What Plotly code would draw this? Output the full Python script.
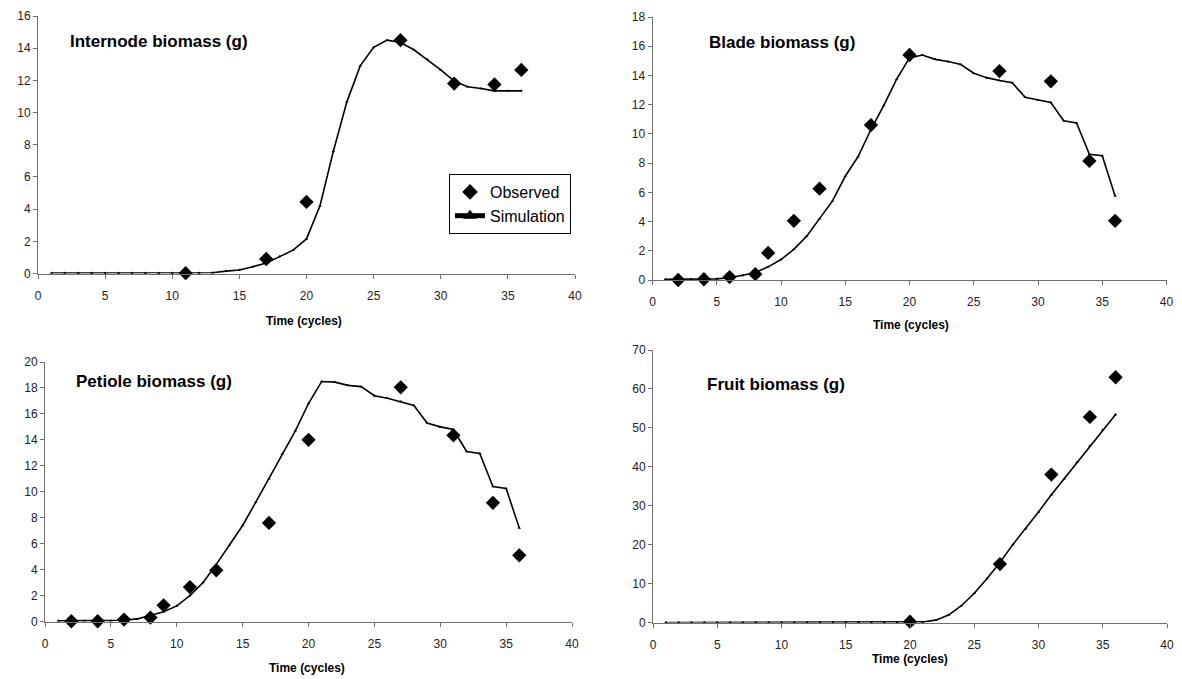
import plotly.graph_objects as go

W, H = 1182, 679

# ---------------- data ----------------
cycles = list(range(1, 37))

internode_sim = [0.03, 0.03, 0.03, 0.03, 0.03, 0.03, 0.03, 0.03, 0.03, 0.03,
                 0.03, 0.03, 0.05, 0.15, 0.22, 0.42, 0.65, 1.05, 1.45, 2.15,
                 4.2, 7.6, 10.65, 12.9, 14.05, 14.5, 14.35, 13.9, 13.3, 12.65,
                 11.95, 11.6, 11.5, 11.35, 11.35, 11.35]
internode_obs_x = [11, 17, 20, 27, 31, 34, 36]
internode_obs_y = [0.02, 0.9, 4.45, 14.5, 11.8, 11.75, 12.65]

blade_sim = [0.05, 0.05, 0.05, 0.05, 0.08, 0.15, 0.3, 0.5, 0.9, 1.4,
             2.1, 3.0, 4.2, 5.4, 7.1, 8.45, 10.3, 11.95, 13.75, 15.2,
             15.4, 15.1, 14.95, 14.75, 14.15, 13.85, 13.65, 13.5, 12.5, 12.3,
             12.15, 10.9, 10.75, 8.6, 8.5, 5.75]
blade_obs_x = [2, 4, 6, 8, 9, 11, 13, 17, 20, 27, 31, 34, 36]
blade_obs_y = [0.0, 0.05, 0.2, 0.4, 1.85, 4.05, 6.25, 10.6, 15.4, 14.3, 13.6, 8.15, 4.05]

petiole_sim = [0.05, 0.05, 0.05, 0.05, 0.05, 0.1, 0.2, 0.45, 0.75, 1.2,
               2.0, 3.0, 4.4, 5.9, 7.4, 9.2, 11.0, 12.9, 14.7, 16.8,
               18.5, 18.45, 18.2, 18.1, 17.4, 17.2, 16.95, 16.65, 15.3, 15.0,
               14.8, 13.1, 12.95, 10.4, 10.25, 7.2]
petiole_obs_x = [2, 4, 6, 8, 9, 11, 13, 17, 20, 27, 31, 34, 36]
petiole_obs_y = [0.02, 0.02, 0.15, 0.3, 1.25, 2.65, 3.95, 7.6, 14.0, 18.05, 14.35, 9.15, 5.1]

fruit_sim = [0.0, 0.0, 0.0, 0.0, 0.0, 0.0, 0.0, 0.0, 0.0, 0.0,
             0.0, 0.0, 0.0, 0.0, 0.0, 0.0, 0.0, 0.0, 0.0, 0.0,
             0.15, 0.6, 1.9, 4.3, 7.5, 11.3, 15.4, 20.0, 24.1, 28.4,
             32.8, 36.9, 41.2, 45.4, 49.5, 53.4]
fruit_obs_x = [20, 27, 31, 34, 36]
fruit_obs_y = [0.2, 15.0, 38.0, 52.8, 63.0]

panel_titles = ["Internode biomass (g)", "Blade biomass (g)",
                "Petiole biomass (g)", "Fruit biomass (g)"]
x_title = "Time (cycles)"
y_max = [16, 18, 20, 70]
y_step = [2, 2, 2, 10]

# ---------------- layout (pixels) ----------------
# (x0, x1, y_top, y_bottom) of plotting areas in pixels
boxes = [(38, 575, 16, 273.5),
         (652.5, 1166.5, 17, 280),
         (45, 572, 362, 621.5),
         (653, 1167, 350, 622.5)]
title_pos = [(68, 41), (707, 42), (74, 381), (705, 384)]
xtitle_pos = [(304, 321), (911, 325), (307, 668), (910, 659)]

series = [(internode_sim, internode_obs_x, internode_obs_y),
          (blade_sim, blade_obs_x, blade_obs_y),
          (petiole_sim, petiole_obs_x, petiole_obs_y),
          (fruit_sim, fruit_obs_x, fruit_obs_y)]

fig = go.Figure()
font_family = "Liberation Sans, Arial, sans-serif"
axis_col = "#707070"

annotations = []
for i, ((sim, ox, oy), box) in enumerate(zip(series, boxes)):
    n = "" if i == 0 else str(i + 1)
    x0, x1, yt, yb = box
    fig.add_trace(go.Scatter(
        x=ox, y=oy, mode="markers", name="Observed",
        marker=dict(symbol="diamond", size=11, color="black"),
        showlegend=(i == 0), xaxis="x" + n, yaxis="y" + n, cliponaxis=False))
    fig.add_trace(go.Scatter(
        x=cycles, y=sim, mode="lines+markers", name="Simulation",
        line=dict(color="black", width=1.6),
        marker=dict(symbol="triangle-up", size=3, color="black"),
        showlegend=(i == 0), xaxis="x" + n, yaxis="y" + n, cliponaxis=False))
    common = dict(showgrid=False, zeroline=False, showline=True, linecolor=axis_col,
                  linewidth=1, ticks="outside", ticklen=4, tickcolor=axis_col,
                  automargin=False,
                  tickfont=dict(family=font_family, size=12, color="#222"))
    fig.update_layout(**{
        "xaxis" + n: dict(domain=[x0 / W, x1 / W], range=[0, 40], dtick=5, tick0=0,
                          anchor="y" + n, ticklabelstandoff=7, **common),
        "yaxis" + n: dict(domain=[1 - yb / H, 1 - yt / H], range=[0, y_max[i]],
                          dtick=y_step[i], tick0=0, anchor="x" + n, **common),
    })
    tx, ty = title_pos[i]
    annotations.append(dict(text="<b>%s</b>" % panel_titles[i], x=tx / W, y=1 - ty / H,
                            xref="paper", yref="paper", xanchor="left", yanchor="middle",
                            showarrow=False, font=dict(family=font_family, size=17, color="black")))
    ax, ay = xtitle_pos[i]
    annotations.append(dict(text="<b>%s</b>" % x_title, x=ax / W, y=1 - ay / H,
                            xref="paper", yref="paper", xanchor="center", yanchor="middle",
                            showarrow=False, font=dict(family=font_family, size=12, color="black")))

fig.update_layout(
    width=W, height=H, margin=dict(l=0, r=0, t=0, b=0),
    paper_bgcolor="white", plot_bgcolor="white",
    annotations=annotations,
    showlegend=True,
    legend=dict(x=449 / W, y=1 - 174 / H, xanchor="left", yanchor="top",
                bordercolor="black", borderwidth=1, bgcolor="white",
                font=dict(family=font_family, size=16, color="black"),
                itemsizing="constant", tracegroupgap=0),
)

fig.write_html(
    "out.html",
    config={"displayModeBar": False},
    post_script="document.body.style.margin='0px';"
                "document.body.style.overflow='hidden';"
                "document.documentElement.style.overflow='hidden';",
)
